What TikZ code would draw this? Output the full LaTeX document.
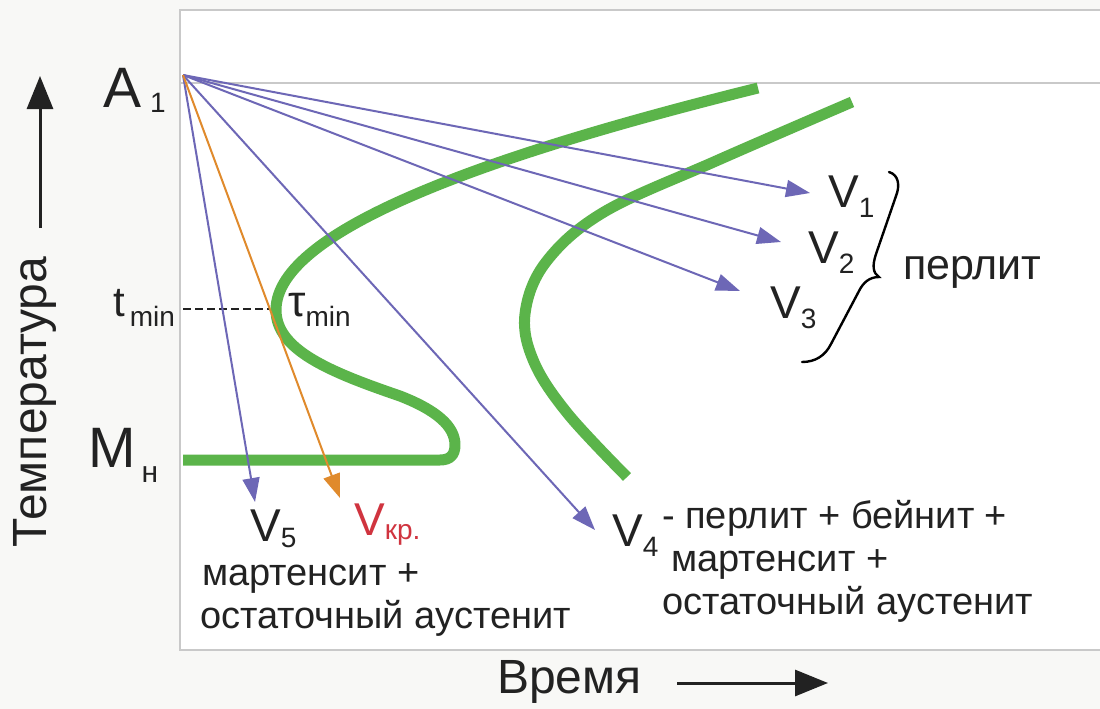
\documentclass[tikz,border=0pt]{standalone}
\usepackage{fontspec}
\setmainfont{Liberation Sans}
\usetikzlibrary{arrows.meta}
\definecolor{bgout}{HTML}{F8F8F6}
\definecolor{boxline}{HTML}{C9C9C9}
\definecolor{ttt}{HTML}{5BB44A}
\definecolor{rate}{HTML}{6D67B6}
\definecolor{crit}{HTML}{E08A2C}
\definecolor{txt}{HTML}{222222}
\definecolor{redtxt}{HTML}{D0343F}
\newcommand\lsub[2]{\raisebox{-#1}{\fontsize{28}{30}\selectfont #2}}
\tikzset{
  lbl/.style={inner sep=0pt, anchor=base west, text=txt},
  big/.style={lbl, font=\fontsize{57}{60}\selectfont},
  vlab/.style={lbl, font=\fontsize{46}{48}\selectfont},
  small/.style={lbl, font=\fontsize{38}{40}\selectfont},
  ratearrow/.style={draw=rate, line width=2pt, -{Triangle[length=24pt,width=17pt]}},
  critarrow/.style={draw=crit, line width=2pt, -{Triangle[length=24pt,width=17pt]}},
  curve/.style={draw=ttt, line width=11pt, line cap=butt, line join=round},
  axisarrow/.style={draw=txt, line width=3pt, -{Triangle[length=33pt,width=26pt]}},
  frame/.style={draw=boxline, line width=1.6pt}
}
\begin{document}
\begin{tikzpicture}[x=1pt,y=-1pt]
\useasboundingbox (0,0) rectangle (1100,709);
\fill[bgout] (0,0) rectangle (1100,709);
\fill[white] (180,10) rectangle (1100,650);
% frame lines
\draw[frame] (1100,10) -- (180,10) -- (180,650) -- (1100,650);
\draw[frame] (180,83) -- (1100,83);

% axis arrows and labels
\coordinate (tbot) at (40,228);
\coordinate (ttop) at (40,76);
\draw[axisarrow] (tbot) -- (ttop);
\node[text=txt, inner sep=0pt, rotate=90, font=\fontsize{48}{50}\selectfont] (temp) at (35,402) {Температура};
\node[lbl, font=\fontsize{48}{50}\selectfont] (time) at (497,693) {Время};
\coordinate (tl) at (677,683);
\coordinate (tr) at (828,683);
\draw[axisarrow] (tl) -- (tr);

% green curves
\draw[curve] (758,88) .. controls (500,152) and (276,228) .. (276,310)
   .. controls (276,350) and (330,372) .. (400,396)
   .. controls (436,410) and (455,426) .. (455,445)
   .. controls (455,455) and (450,460) .. (440,460) -- (183,460);
\draw[curve] plot[smooth, tension=0.6] coordinates {(852,102) (716,161) (604,212) (546,262) (525,314) (534,362) (568,414) (627,477)};

% dashed tmin line
\coordinate (tminL) at (183,309);
\coordinate (tminR) at (270,309);
\draw[txt, line width=2pt, dash pattern=on 8pt off 4pt] (tminL) -- (tminR);

% rate arrows
\coordinate (A1pt) at (183,75);
\coordinate (v1tip) at (810,193);
\coordinate (v2tip) at (781,242);
\coordinate (v3tip) at (740,291);
\coordinate (v4tip) at (595,530);
\coordinate (v5tip) at (255,502);
\coordinate (vkrtip) at (340,498);
\draw[ratearrow] (A1pt) -- (v1tip);
\draw[ratearrow] (A1pt) -- (v2tip);
\draw[ratearrow] (A1pt) -- (v3tip);
\draw[ratearrow] (A1pt) -- (v4tip);
\draw[ratearrow] (A1pt) -- (v5tip);
\draw[critarrow] (A1pt) -- (vkrtip);

% labels
\node[big] (A1) at (103,107) {A\hspace{9pt}\lsub{5pt}{1}};
\node[big] (Mn) at (88,467) {M\hspace{6pt}\raisebox{-15pt}{\fontsize{30}{32}\selectfont н}};
\node[lbl, font=\fontsize{42}{44}\selectfont] (tmin) at (113,316) {t\hspace{5pt}\lsub{10pt}{min}};
\node[lbl, font=\fontsize{44}{46}\selectfont] (taumin) at (288,316) {τ\lsub{10pt}{min}};

\node[vlab] (V1) at (828,207) {V\lsub{10pt}{1}};
\node[vlab] (V2) at (808,263) {V\lsub{10pt}{2}};
\node[vlab] (V3) at (770,318) {V\lsub{10pt}{3}};
\node[vlab] (V4) at (612,546) {V\lsub{10pt}{4}};
\node[vlab] (V5) at (250,541) {V\lsub{6pt}{5}};
\node[vlab, text=redtxt] (Vkr) at (354,535) {V\lsub{4pt}{кр.}};

\node[lbl, font=\fontsize{43}{45}\selectfont] (perlit) at (903,279) {перлит};
\draw[black, line width=2.4pt, line cap=round]
  (889,172) .. controls (899,175) and (900,186) .. (896,196)
  -- (876,254) .. controls (872,266) and (873,273) .. (879,277)
  .. controls (869,277) and (863,283) .. (859,291)
  -- (831,344) .. controls (825,356) and (815,362) .. (802,362);

\node[small] (m5a) at (202,585) {мартенсит +};
\node[small] (m5b) at (200,628) {остаточный аустенит};
\node[small] (m4a) at (662,528) {- перлит + бейнит +};
\node[small] (m4b) at (671,571) {мартенсит +};
\node[small] (m4c) at (662,614) {остаточный аустенит};
\end{tikzpicture}
\end{document}
